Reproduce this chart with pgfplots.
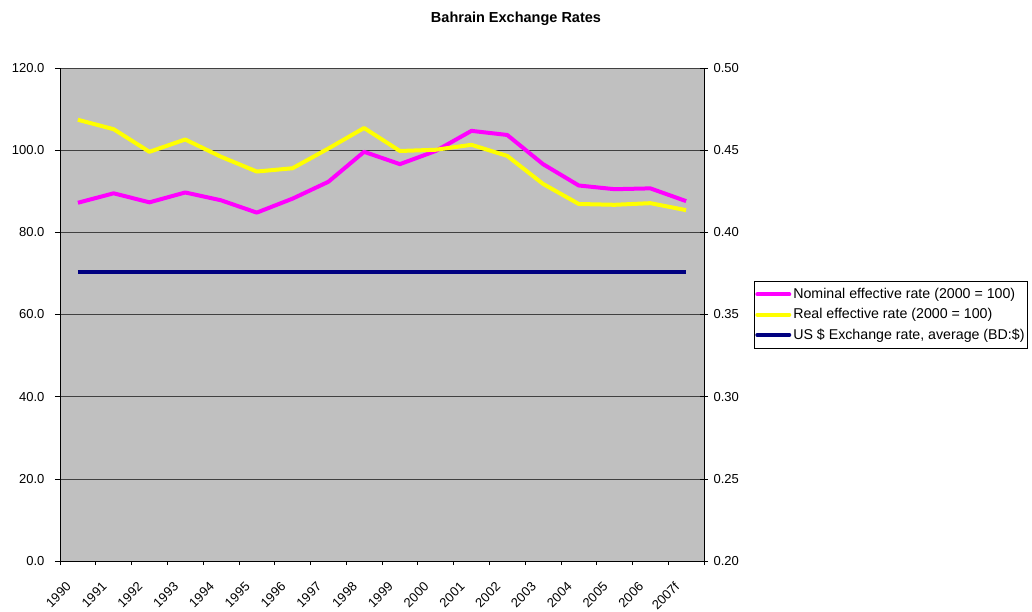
\documentclass[border=0pt]{standalone}
\usepackage{fontspec}
\setmainfont{Liberation Sans}
\usepackage{pgfplots}
\pgfplotsset{compat=1.18}
\definecolor{plotgray}{RGB}{192,192,192}
\definecolor{nomcol}{RGB}{255,0,255}
\definecolor{realcol}{RGB}{255,255,0}
\definecolor{usdcol}{RGB}{0,0,128}

\pgfplotstableread{
x nominal real usd
0.5 87.2 107.4 0.376
1.5 89.5 105.1 0.376
2.5 87.3 99.6 0.376
3.5 89.7 102.6 0.376
4.5 87.8 98.4 0.376
5.5 84.8 94.8 0.376
6.5 88.2 95.6 0.376
7.5 92.3 100.4 0.376
8.5 99.6 105.4 0.376
9.5 96.6 99.8 0.376
10.5 99.8 100.1 0.376
11.5 104.7 101.3 0.376
12.5 103.7 98.6 0.376
13.5 96.6 91.8 0.376
14.5 91.4 86.9 0.376
15.5 90.5 86.7 0.376
16.5 90.7 87.1 0.376
17.5 87.6 85.4 0.376
}\ratedata

\begin{document}
\fontsize{13}{15}\selectfont
\begin{tikzpicture}
\pgfplotsset{
  base/.style={
    scale only axis,
    width=644pt, height=493pt,
    at={(0,0)}, anchor=south west,
    xmin=0, xmax=18,
    tick align=outside,
    major tick length=5pt,
    minor tick length=4pt,
    tick style={black, line width=0.6pt},
    axis line style={black, line width=0.8pt},
    /pgf/number format/assume math mode=true,
    tick label style={font=\fontsize{13}{15}\selectfont},
  }
}
\begin{axis}[
  base,
  axis background/.style={fill=plotgray, draw=gray!80!black},
  axis x line*=bottom,
  axis y line*=left,
  ymin=0, ymax=120,
  ytick={0,20,...,120},
  yticklabel style={xshift=-6pt, /pgf/number format/.cd, fixed, fixed zerofill, precision=1},
  ymajorgrids=true,
  grid style={black!75, line width=0.6pt},
  xtick={0.5,1.5,...,17.5},
  xticklabels={1990,1991,1992,1993,1994,1995,1996,1997,1998,1999,2000,2001,2002,2003,2004,2005,2006,2007f},
  major x tick style={draw=none},
  minor xtick={0,1,...,18},
  xticklabel style={font=\fontsize{13}{15}\selectfont, xshift=-12.5pt, yshift=-15pt, rotate=45, anchor=north east, inner sep=0pt},
]
\addplot[nomcol, line width=4pt, line join=round] table[x=x, y=nominal] {\ratedata};
\addplot[realcol, line width=4pt, line join=round] table[x=x, y=real] {\ratedata};
\end{axis}
\begin{axis}[
  base,
  axis x line=none,
  axis y line*=right,
  ymin=0.20, ymax=0.50,
  ytick={0.20,0.25,...,0.50},
  major tick length=8pt,
  ytick align=center,
  yticklabel style={xshift=1pt, /pgf/number format/.cd, fixed, fixed zerofill, precision=2},
  legend style={
    at={(1.0776,0.568)}, anchor=north west,
    draw=black, fill=white, line width=0.6pt,
    font=\fontsize{14.2}{16}\selectfont,
    row sep=4pt, inner xsep=1pt, inner ysep=5pt,
    nodes={inner sep=2pt},
  },
  legend cell align=left,
  legend image code/.code={\draw[line width=4pt, line cap=round, #1] (0pt,0pt) -- (32pt,0pt);},
]
\addlegendimage{nomcol}
\addlegendentry{Nominal effective rate (2000 = 100)}
\addlegendimage{realcol}
\addlegendentry{Real effective rate (2000 = 100)}
\addplot[usdcol, line width=4pt] table[x=x, y=usd] {\ratedata};
\addlegendentry{US \$ Exchange rate, average (BD:\$)}
\end{axis}
\node[font=\fontsize{14.5}{16}\selectfont\bfseries] at (456pt,542pt) {Bahrain Exchange Rates};
\pgfresetboundingbox
\useasboundingbox (-60pt,-50pt) rectangle (972pt,561pt);
\end{tikzpicture}
\end{document}
